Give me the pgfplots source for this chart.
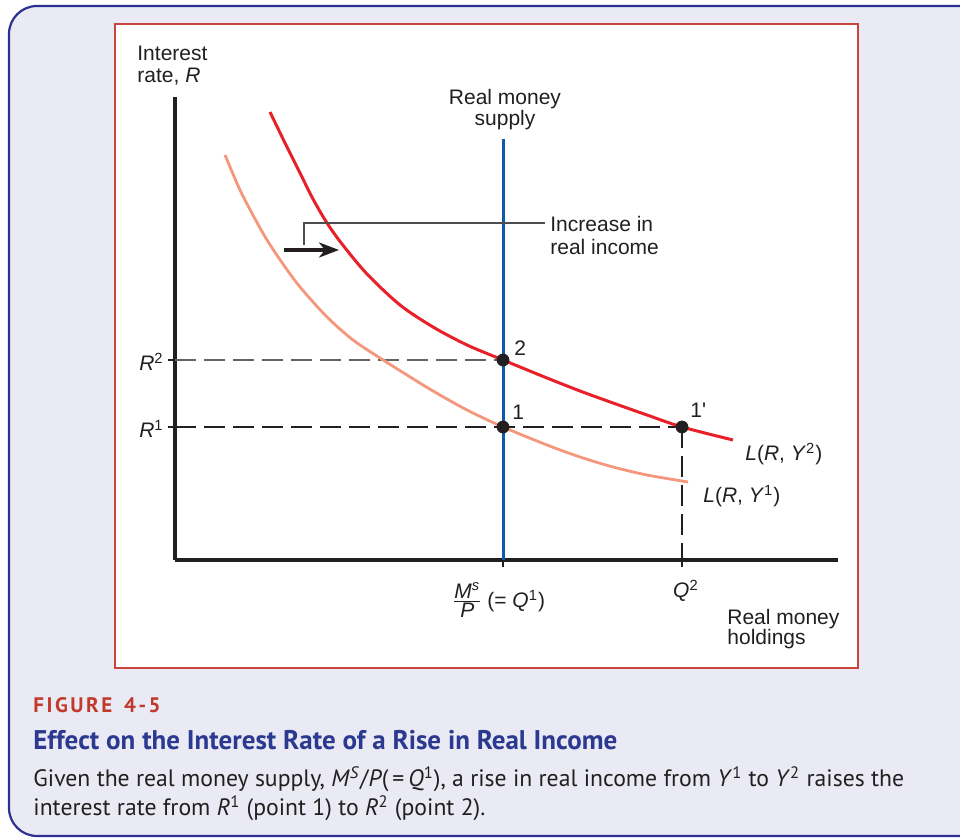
\documentclass[border=0pt]{standalone}
\usepackage{fontspec}
\setmainfont{Liberation Sans}
\newfontfamily\capfont{PT Sans}
\usepackage{pgfplots}
\pgfplotsset{compat=1.18}
\usetikzlibrary{arrows.meta}
\definecolor{frameblue}{HTML}{2E3192}
\definecolor{framebg}{HTML}{E9EAF3}
\definecolor{boxred}{HTML}{C8453C}
\definecolor{curvered}{HTML}{E8202A}
\definecolor{salmon}{HTML}{F4977D}
\definecolor{supblue}{HTML}{0B5CAD}
\definecolor{ink}{HTML}{231F20}
\definecolor{figred}{HTML}{C1392B}
\definecolor{titleblue}{HTML}{2B3990}

\begin{document}
\begin{tikzpicture}[x=0.5pt,y=-0.5pt,font=\fontsize{10.5}{12}\selectfont,
  every node/.style={inner sep=0pt,text=ink}]
\useasboundingbox (0,0) rectangle (960,838);
\clip (0,0) rectangle (960,838);
\fill[white] (0,0) rectangle (960,838);
\draw[frameblue,fill=framebg,line width=1.1pt,rounded corners=14pt] (9,6) rectangle (1000,836);
\draw[boxred,fill=white,line width=1.4pt] (115,24) rectangle (858,668);

% money market diagram, units = pixels from the origin (175,560)
\begin{axis}[at={(87.5pt,-280pt)}, anchor=south west, scale only axis,
  width=331.5pt, height=231.5pt,
  xmin=0, xmax=663, ymin=0, ymax=463,
  axis lines=left, axis line style={-,line width=1.6pt,ink},
  xtick={328,507}, ytick={133,200}, xticklabels={}, yticklabels={},
  tick align=outside, major tick length=3.5pt,
  tick style={ink,line width=0.7pt},
  clip=false]
\addplot[ink!70, line width=1.1pt, dash pattern=on 10.5pt off 4pt] coordinates {(0,200) (328,200)};
\addplot[ink, line width=1.1pt, dash pattern=on 10.5pt off 4pt] coordinates {(0,133) (507,133)};
\addplot[ink, line width=1.1pt, dash pattern=on 10.5pt off 4pt] coordinates {(507,133) (507,0)};
% L(R, Y1)
\addplot[salmon, line width=1.4pt, smooth] coordinates {
 (50,405) (65,370) (79,343) (92,320) (108,296) (125,273) (152,243) (178,220)
 (205,202) (232,185) (258,169) (292,150) (328,133) (372,115) (405,103)
 (438,93) (472,85) (513,78)};
% L(R, Y2)
\addplot[curvered, line width=1.5pt, smooth] coordinates {
 (95,448) (110,417) (125,387) (138,361) (152,337) (167,316) (192,286)
 (225,255) (258,233) (292,215) (328,200) (372,182) (405,169) (438,157)
 (472,145) (507,133) (558,120)};
% real money supply
\addplot[supblue, line width=1.5pt] coordinates {(328,0) (328,421)};
\addplot[only marks, mark=*, mark size=3pt, ink] coordinates {(328,200) (328,133) (507,133)};
\end{axis}

\draw[ink!80, line width=0.8pt] (304,245) -- (304,223) -- (545,223);
\draw[ink, line width=1.6pt, -{Stealth[length=10pt,width=7.5pt,inset=3pt]}] (284,250) -- (339,250);

\node[anchor=base west] at (137,61) {Interest};
\node[anchor=base west] at (137,83) {rate, \textit{R}};
\node[anchor=base] at (505,105) {Real money};
\node[anchor=base] at (505,126) {supply};
\node[anchor=base west] at (550,232) {Increase in};
\node[anchor=base west] at (550,255) {real income};
\node[anchor=base west] at (514,356) {2};
\node[anchor=base west] at (512,420) {1};
\node[anchor=base west] at (690,418) {1\textquotesingle};
\node[anchor=base west] at (745,461) {\textit{L}(\textit{R}, \textit{Y}\textsuperscript{2})};
\node[anchor=base west] at (703,503) {\textit{L}(\textit{R}, \textit{Y}\textsuperscript{1})};
\node[anchor=base east] at (164,371) {\textit{R}\textsuperscript{2}};
\node[anchor=base east] at (164,438) {\textit{R}\textsuperscript{1}};
\node[anchor=east] at (483,600) {$\frac{\mbox{\textit{M}\textsuperscript{\textit{s}}}}{\mbox{\textit{P}}}$};
\node[anchor=base west] at (487,608) {(= \textit{Q}\textsuperscript{1})};
\node[anchor=base] at (686,598) {\textit{Q}\textsuperscript{2}};
\node[anchor=base west] at (727,625) {Real money};
\node[anchor=base west] at (727,645) {holdings};

\node[anchor=base west,text=figred] at (33,713) {\capfont\bfseries\fontsize{10.5}{12}\selectfont\addfontfeatures{LetterSpace=12}FIGURE\hspace{6pt}4-5};
\node[anchor=base west,text=titleblue] at (33,750) {\capfont\bfseries\fontsize{13.5}{16}\selectfont Effect on the Interest Rate of a Rise in Real Income};
\node[anchor=base west] at (33,787) {\capfont\fontsize{11.85}{14}\selectfont Given the real money supply, \textit{M}\textsuperscript{\textit{S}}/\textit{P}(\,=\,\textit{Q}\textsuperscript{1}), a rise in real income from \textit{Y}\textsuperscript{1} to \textit{Y}\textsuperscript{2} raises the};
\node[anchor=base west] at (33,816) {\capfont\fontsize{11.85}{14}\selectfont interest rate from \textit{R}\textsuperscript{1} (point 1) to \textit{R}\textsuperscript{2} (point 2).};
\end{tikzpicture}
\end{document}
